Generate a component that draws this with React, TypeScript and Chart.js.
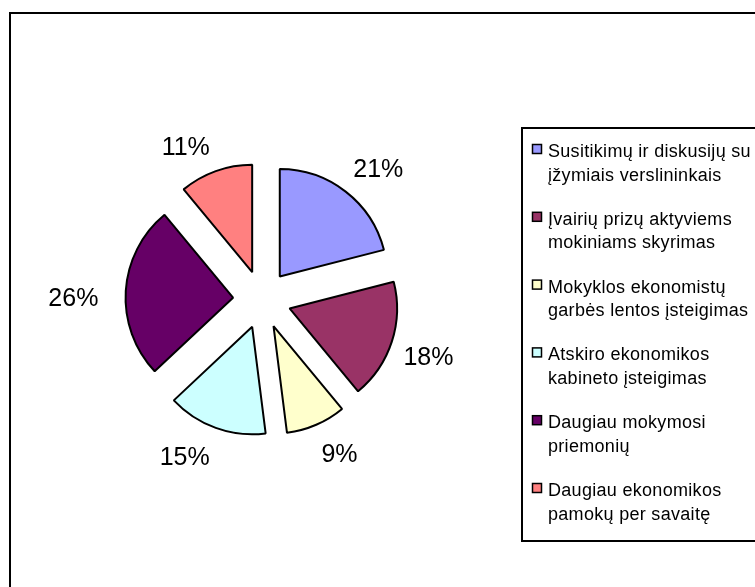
import React, { useEffect, useRef } from "react";
import { Chart, registerables } from "chart.js";

Chart.register(...registerables);

const categories: string[][] = [
  ["Susitikimų ir diskusijų su", "įžymiais verslininkais"],
  ["Įvairių prizų aktyviems", "mokiniams skyrimas"],
  ["Mokyklos ekonomistų", "garbės lentos įsteigimas"],
  ["Atskiro ekonomikos", "kabineto įsteigimas"],
  ["Daugiau mokymosi", "priemonių"],
  ["Daugiau ekonomikos", "pamokų per savaitę"],
];
const values: number[] = [21, 18, 9, 15, 26, 11];
const colors: string[] = ["#9999FF", "#993366", "#FFFFCC", "#CCFFFF", "#660066", "#FF8080"];

// style: label nudges relative to the generic radial placement
const labelNudge: number[][] = [[9, 8], [0, 4], [8, -6], [-18, -7], [-14, 10], [-17, 12]];

const W = 755;
const H = 587;
const EXPLODE = 29;
const RADIUS = 107.5;
const LABEL_DIST = 175;
const FONT = "'Liberation Sans', Arial, sans-serif";

const decorPlugin = {
  id: "decor",
  afterDatasetsUpdate(chart: any) {
    const meta = chart.getDatasetMeta(0);
    meta.data.forEach((el: any) => {
      const mid = (el.startAngle + el.endAngle) / 2;
      el.x += Math.cos(mid) * EXPLODE;
      el.y += Math.sin(mid) * EXPLODE;
    });
  },
  beforeDraw(chart: any) {
    const ctx = chart.ctx;
    ctx.save();
    ctx.fillStyle = "#ffffff";
    ctx.fillRect(0, 0, W, H);
    ctx.strokeStyle = "#000000";
    ctx.lineWidth = 2;
    ctx.strokeRect(10, 13, W + 100, H + 100);
    ctx.restore();
  },
  afterDraw(chart: any) {
    const ctx = chart.ctx;
    const area = chart.chartArea;
    const cx = (area.left + area.right) / 2;
    const cy = (area.top + area.bottom) / 2;
    const meta = chart.getDatasetMeta(0);
    const total = values.reduce((a, b) => a + b, 0);
    ctx.save();
    // percentage labels
    ctx.fillStyle = "#000000";
    ctx.font = `25px ${FONT}`;
    ctx.textAlign = "center";
    ctx.textBaseline = "middle";
    meta.data.forEach((el: any, i: number) => {
      const mid = (el.startAngle + el.endAngle) / 2;
      const x = cx + Math.cos(mid) * LABEL_DIST + labelNudge[i][0];
      const y = cy + Math.sin(mid) * LABEL_DIST + labelNudge[i][1];
      ctx.fillText(`${Math.round((values[i] / total) * 100)}%`, x, y + 1);
    });
    // legend box
    ctx.strokeStyle = "#000000";
    ctx.lineWidth = 2;
    ctx.strokeRect(522, 128, 300, 413);
    ctx.font = `18px ${FONT}`;
    try { (ctx as any).letterSpacing = "0.3px"; } catch (e) {}
    ctx.textAlign = "left";
    ctx.textBaseline = "alphabetic";
    const top0 = 144;
    const step = 67.8;
    const lineH = 23.5;
    categories.forEach((lines, i) => {
      const top = top0 + i * step;
      ctx.fillStyle = colors[i];
      ctx.fillRect(532.5, top + 0.5, 9, 9);
      ctx.lineWidth = 1.5;
      ctx.strokeStyle = "#000000";
      ctx.strokeRect(532.5, top + 0.5, 9, 9);
      ctx.fillStyle = "#000000";
      lines.forEach((ln, j) => {
        ctx.fillText(ln, 548, top + 13 + j * lineH);
      });
    });
    ctx.restore();
  },
};

export default function App() {
  const ref = useRef<HTMLCanvasElement | null>(null);
  useEffect(() => {
    if (!ref.current) return;
    const chart = new Chart(ref.current, {
      type: "pie",
      data: {
        labels: categories,
        datasets: [
          {
            data: values,
            backgroundColor: colors,
            borderColor: "#000000",
            borderWidth: 2,
          },
        ],
      },
      options: {
        responsive: false,
        animation: false,
        devicePixelRatio: 1,
        radius: RADIUS,
        layout: { padding: { left: 0, top: 12, right: W - 524, bottom: 0 } },
        plugins: {
          legend: { display: false },
          tooltip: { enabled: false },
        },
      } as any,
      plugins: [decorPlugin],
    });
    return () => chart.destroy();
  }, []);
  return (
    <div style={{ position: "fixed", left: 0, top: 0, width: W, height: H, background: "#fff" }}>
      <canvas ref={ref} width={W} height={H} style={{ display: "block" }} />
    </div>
  );
}
